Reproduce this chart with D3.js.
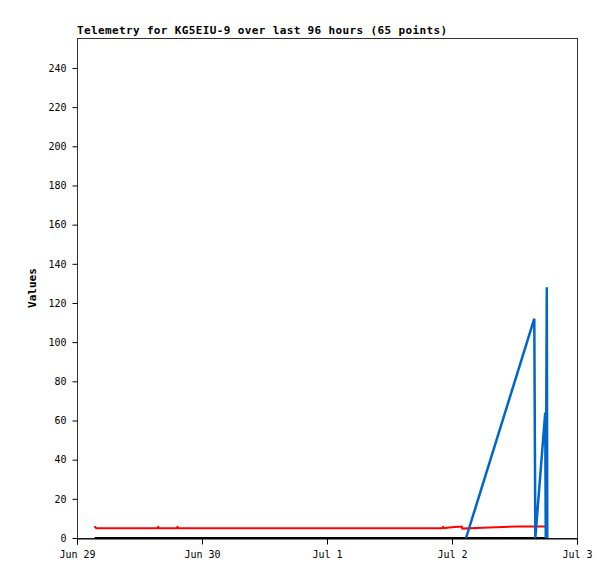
<!DOCTYPE html>
<html>
<head>
<meta charset="utf-8">
<script src="https://cdn.jsdelivr.net/npm/d3@7"></script>
<style>
  body { margin: 0; background: #fff; }
  svg text { font-family: "DejaVu Sans Mono", monospace; }
</style>
</head>
<body>
<svg id="chart" width="615" height="579"></svg>
<script>

// hours after Jun 29 00:00
let blueHours = [74.7, 87.8, 88.0, 89.9, 90.0, 90.2, 90.3]
let blueValues = [0, 112, 0, 64, 0, 128, 0]

let redHours = [3.3, 3.5, 3.7, 15.4, 15.6, 15.8, 19.1, 19.3, 19.5, 70.1, 70.3, 70.5, 71.4, 73.2, 73.9, 74.0, 77.9, 84.5, 89.9]
let redValues = [5.6, 5.6, 5.0, 5.0, 5.6, 5.0, 5.0, 5.6, 5.0, 5.0, 5.6, 5.0, 5.4, 5.8, 5.8, 4.8, 5.2, 5.9, 5.9]

let blackHours = [3.4, 90.4]
let blackValues = [0, 0]

let yTicks = [0, 20, 40, 60, 80, 100, 120, 140, 160, 180, 200, 220, 240]
let xTickLabels = ["Jun 29", "Jun 30", "Jul 1", "Jul 2", "Jul 3"]

let margin = {left: 77, top: 38, right: 38, bottom: 41}
let width = 615, height = 579

let svg = d3.select("#chart")

let start = new Date(2024, 5, 29)
let toDate = h => new Date(start.getTime() + h * 3600 * 1000)

let x = d3.scaleTime()
    .domain([start, toDate(96)])
    .range([margin.left, width - margin.right])

let y = d3.scaleLinear()
    .domain([0, 255.3])
    .range([height - margin.bottom, margin.top])

// frame
svg.append("rect")
    .attr("x", margin.left + 0.5)
    .attr("y", margin.top + 0.5)
    .attr("width", width - margin.left - margin.right)
    .attr("height", height - margin.top - margin.bottom)
    .attr("fill", "none")
    .attr("stroke", "#333")

let yAxis = d3.axisLeft(y)
    .tickValues(yTicks)
    .tickSize(5)
    .tickPadding(6)

svg.append("g")
    .attr("transform", "translate(" + (margin.left + 0.5) + ",0)")
    .call(yAxis)
    .call(g => g.select(".domain").remove())
    .selectAll("text")
    .style("font-size", "10px")

let xAxis = d3.axisBottom(x)
    .tickValues(xTickLabels.map((d, i) => toDate(i * 24)))
    .tickFormat((d, i) => xTickLabels[i])
    .tickSize(6)
    .tickPadding(6)

svg.append("g")
    .attr("transform", "translate(0," + (height - margin.bottom + 0.5) + ")")
    .call(xAxis)
    .call(g => g.select(".domain").attr("stroke", "#000"))
    .selectAll("text")
    .style("font-size", "10px")

svg.selectAll(".tick line").attr("stroke", "#000")
svg.selectAll(".tick text").attr("fill", "#000")

let line = d3.line()
    .x(d => x(toDate(d[0])))
    .y(d => y(d[1]))

let series = [
    {hours: blackHours, values: blackValues, color: "#000000", w: 2},
    {hours: redHours, values: redValues, color: "#ff0000", w: 2},
    {hours: blueHours, values: blueValues, color: "#0066cc", w: 2.5}
]

series.forEach(function(s) {
    svg.append("path")
        .datum(s.hours.map((h, i) => [h, s.values[i]]))
        .attr("d", line)
        .attr("fill", "none")
        .attr("stroke", s.color)
        .attr("stroke-width", s.w)
        .attr("stroke-linejoin", "miter")
})

svg.append("text")
    .attr("x", margin.left)
    .attr("y", 34)
    .attr("font-weight", "bold")
    .attr("textLength", 370)
    .style("font-size", "11px")
    .text("Telemetry for KG5EIU-9 over last 96 hours (65 points)")

svg.append("text")
    .attr("transform", "translate(36," + (margin.top + (height - margin.top - margin.bottom) / 2) + ") rotate(-90)")
    .attr("text-anchor", "middle")
    .attr("font-weight", "bold")
    .style("font-size", "11px")
    .text("Values")

</script>
</body>
</html>
